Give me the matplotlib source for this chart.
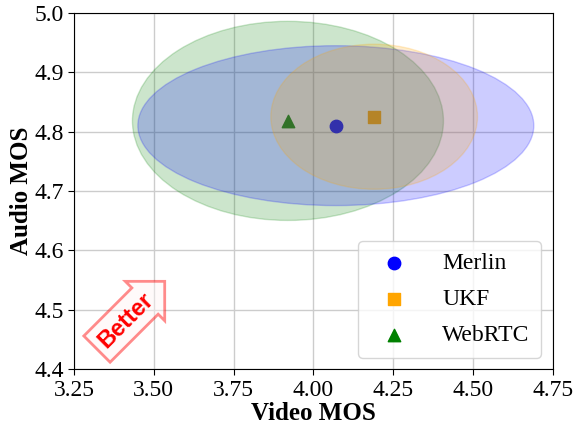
import matplotlib.pyplot as plt
from matplotlib.patches import Ellipse

plt.rcParams['font.family'] = ['Liberation Serif', 'DejaVu Serif']

# per-method mean MOS and spread (ellipse width/height)
methods = ['Merlin', 'UKF', 'WebRTC']
video_mos = [4.07, 4.19, 3.92]
audio_mos = [4.81, 4.825, 4.818]
video_spread = [1.24, 0.647, 0.974]
audio_spread = [0.269, 0.244, 0.335]
colors = ['blue', 'orange', 'green']
markers = ['o', 's', '^']

xticks = [3.25, 3.50, 3.75, 4.00, 4.25, 4.50, 4.75]
yticks = [4.4, 4.5, 4.6, 4.7, 4.8, 4.9, 5.0]

fig = plt.figure(figsize=(5.75, 4.28), dpi=100)
ax = fig.add_axes([0.1287, 0.1371, 0.833, 0.8332])

for m, x, y, c, mk in zip(methods, video_mos, audio_mos, colors, markers):
    ax.scatter(x, y, color=c, marker=mk, s=80, label=m, zorder=1)

order = [2, 0, 1]  # green, blue, orange drawing order
for i in order:
    e = Ellipse((video_mos[i], audio_mos[i]), video_spread[i], audio_spread[i],
                color=colors[i], alpha=0.2, lw=1, zorder=2)
    ax.add_patch(e)

ax.set_xlim(3.25, 4.75)
ax.set_ylim(4.4, 5.0)
ax.set_xticks(xticks)
ax.set_xticklabels(['%.2f' % t for t in xticks])
ax.set_yticks(yticks)
ax.set_yticklabels(['%.1f' % t for t in yticks])
ax.tick_params(labelsize=17, length=4)
ax.grid(True, color='#cccccc', lw=1, zorder=0)
ax.set_axisbelow(True)

ax.set_xlabel('Video MOS', fontsize=18, fontweight='bold', labelpad=1)
ax.set_ylabel('Audio MOS', fontsize=18, fontweight='bold', labelpad=1)

ax.legend(loc='lower right', fontsize=17, handletextpad=1.05, borderpad=0.5,
          labelspacing=0.6, borderaxespad=0.5, framealpha=0.8)

ax.text(3.413, 4.483, 'Better', rotation=45, ha='center', va='center',
        fontsize=17, fontweight='bold', color='red', family='Liberation Sans',
        bbox=dict(boxstyle='rarrow,pad=0.3', fc='#fff5f5', ec='red', lw=2,
                  alpha=0.45), zorder=5)

fig.savefig('out.png', dpi=100)
